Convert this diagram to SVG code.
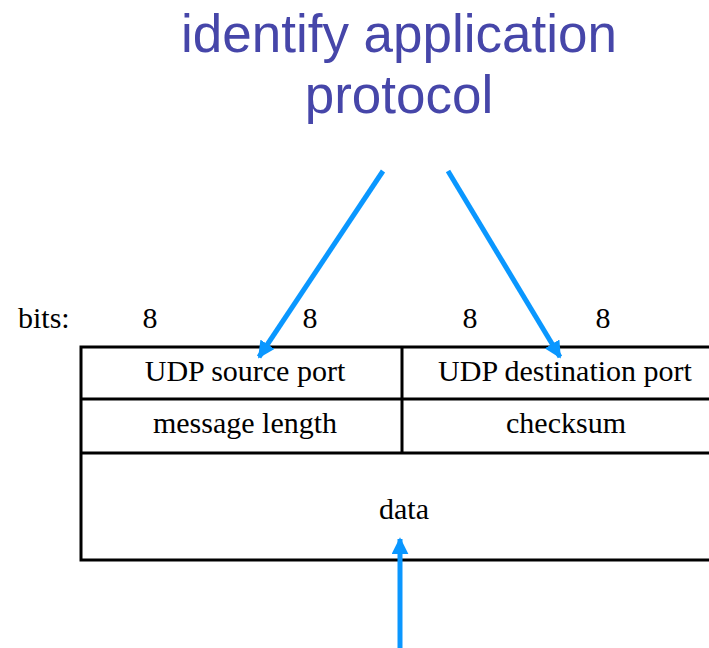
<svg xmlns="http://www.w3.org/2000/svg" width="709" height="648" viewBox="0 0 709 648">
<style>
.t{font-family:"Liberation Serif","Times New Roman",serif;font-size:30px;fill:#000;text-anchor:middle}
.title{font-family:"Liberation Sans",Arial,sans-serif;font-size:53px;fill:#4646A9;text-anchor:middle}
.ln{stroke:#000;stroke-width:3;fill:none}
.ar{stroke:#0A97FF;stroke-width:5;fill:none;marker-end:url(#ah)}
</style>
<defs>
<marker id="ah" viewBox="0 0 10 10" refX="9" refY="5" markerWidth="3.4" markerHeight="3.4" orient="auto" markerUnits="strokeWidth">
<path d="M0,0 L10,5 L0,10 Z" fill="#0A97FF"/>
</marker>
</defs>
<rect width="709" height="648" fill="#fff"/>
<g id="title">
<text class="title" x="399" y="52">identify application</text>
<text class="title" x="399" y="113">protocol</text>
</g>
<g id="bits">
<text class="t" x="18" y="328" style="text-anchor:start">bits:</text>
<text class="t" x="150" y="328">8</text>
<text class="t" x="310" y="328">8</text>
<text class="t" x="470" y="328">8</text>
<text class="t" x="603" y="328">8</text>
</g>
<g id="table">
<path class="ln" d="M711,347 H81 V560 H711 M81,399 H711 M81,453 H711 M402,347 V453"/>
</g>
<g id="src-port"><text class="t" x="245" y="381">UDP source port</text></g>
<g id="dst-port"><text class="t" x="565" y="381">UDP destination port</text></g>
<g id="msg-len"><text class="t" x="245" y="433">message length</text></g>
<g id="checksum"><text class="t" x="566" y="433">checksum</text></g>
<g id="data"><text class="t" x="404" y="519">data</text></g>
<g id="connectors">
<line class="ar" x1="383" y1="171" x2="259" y2="357"/>
<line class="ar" x1="448" y1="171" x2="560" y2="357"/>
<line class="ar" x1="400" y1="648" x2="400" y2="539"/>
</g>
</svg>
